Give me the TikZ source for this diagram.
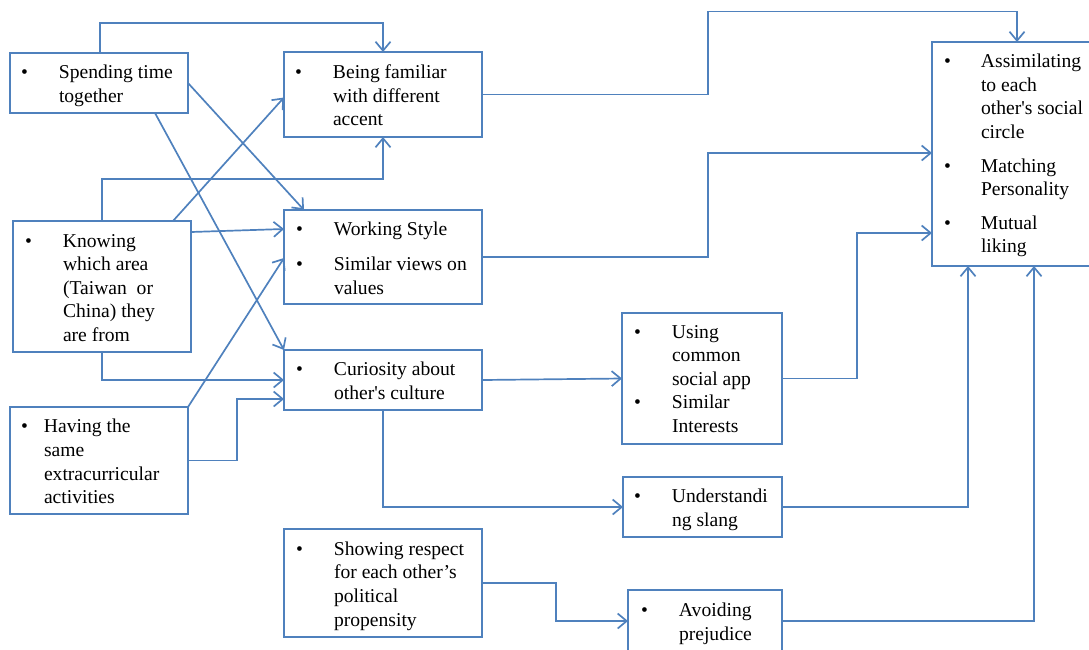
\documentclass[tikz,border=0pt]{standalone}
\usepackage{fontspec}
\setmainfont{Liberation Serif}
\usetikzlibrary{arrows.meta}
\definecolor{linkblue}{HTML}{4F81BD}
% bullet list set as a two-column table: bullet column, then text
\newcommand\bitems[2]{\begin{tabular}{@{}p{#1}@{}l@{}}#2\end{tabular}}
\begin{document}
\begin{tikzpicture}[x=1pt,y=-1pt,
  box/.style={draw=linkblue, line width=1.9pt, rectangle, inner sep=0pt, outer sep=0pt, anchor=north west},
  txt/.style={inner sep=0pt, outer sep=0pt, anchor=west, font=\fontsize{19.6pt}{23.6pt}\selectfont},
  conn/.style={draw=linkblue, line width=1.7pt, -{Straight Barb[length=9pt,width=15pt]}},
]
\useasboundingbox (0,0) rectangle (1089,649);
\clip (0,0) rectangle (1089,649);

% boxes
\node[box, minimum width=178pt, minimum height=60pt]  (A) at (10,53) {};
\node[box, minimum width=198pt, minimum height=85pt]  (B) at (284,52) {};
\node[box, minimum width=178pt, minimum height=131pt] (C) at (13,221) {};
\node[box, minimum width=198pt, minimum height=94pt]  (D) at (284,210) {};
\node[box, minimum width=198pt, minimum height=60pt]  (E) at (284,350) {};
\node[box, minimum width=178pt, minimum height=107pt] (F) at (10,407) {};
\node[box, minimum width=160pt, minimum height=131pt] (G) at (622,313) {};
\node[box, minimum width=159pt, minimum height=60pt]  (H) at (623,477) {};
\node[box, minimum width=198pt, minimum height=108pt] (I) at (284,529) {};
\node[box, minimum width=154pt, minimum height=62pt]  (J) at (628,590) {};
\node[box, minimum width=166pt, minimum height=224pt] (K) at (932,42) {};

% box texts
\node[txt] (At) at ([xshift=11pt,yshift=-3pt]A.west) {\bitems{38pt}{\textbullet & Spending time\\ & together}};
\node[txt] (Bt) at ([xshift=11pt,yshift=-3pt]B.west) {\bitems{38pt}{\textbullet & Being familiar\\ & with different\\ & accent}};
\node[txt] (Ct) at ([xshift=12pt,yshift=-3pt]C.west) {\bitems{38pt}{\textbullet & Knowing\\ & which area\\ & (Taiwan\ \ or\\ & China) they\\ & are from}};
\node[txt] (Dt) at ([xshift=12pt,yshift=-3pt]D.west) {\bitems{38pt}{\textbullet & Working Style\\[12pt] \textbullet & Similar\ views\ on\\ & values}};
\node[txt] (Et) at ([xshift=12pt,yshift=-3pt]E.west) {\bitems{38pt}{\textbullet & Curiosity about\\ & other\textquotesingle s culture}};
\node[txt] (Ft) at ([xshift=11pt,yshift=-3pt]F.west) {\bitems{23pt}{\textbullet & Having the\\ & same\\ & extracurricular\\ & activities}};
\node[txt] (Gt) at ([xshift=12pt,yshift=-2pt]G.west) {\bitems{38pt}{\textbullet & Using\\ & common\\ & social app\\ \textbullet & Similar\\ & Interests}};
\node[txt] (Ht) at ([xshift=11pt,yshift=-3pt]H.west) {\bitems{38pt}{\textbullet & Understandi\\ & ng slang}};
\node[txt] (It) at ([xshift=12pt,yshift=-3pt]I.west) {\bitems{38pt}{\textbullet & Showing respect\\ & for each other’s\\ & political\\ & propensity}};
\node[txt] (Jt) at ([xshift=13pt,yshift=-3pt]J.west) {\bitems{38pt}{\textbullet & Avoiding\\ & prejudice}};
\node[txt] (Kt) at ([xshift=12pt,yshift=-1.5pt]K.west) {\bitems{37pt}{\textbullet & Assimilating\\ & to each\\ & other\textquotesingle s social\\ & circle\\[10pt] \textbullet & Matching\\ & Personality\\[10pt] \textbullet & Mutual\\ & liking}};

% connectors
\draw[conn] ([xshift=90pt]A.north west) -- ++(0,-30) -| ([xshift=99pt]B.north west);
\draw[conn] ([xshift=89pt]C.north west) -- ++(0,-42) -| ([xshift=99pt]B.south west);
\draw[conn] ([xshift=160pt]C.north west) -- ([yshift=-3pt]B.west);
\draw[conn] (A.east) -- ([xshift=20pt]D.north west);
\draw[conn] ([xshift=145pt]A.south west) -- (E.north west);
\draw[conn] ([yshift=-11pt]C.north east) -- ([yshift=-19pt]D.north west);
\draw[conn] (F.north east) -- ([yshift=-48pt]D.north west);
\draw[conn] ([xshift=89pt]C.south west) |- (E.west);
\draw[conn] (F.east) -- ++(49,0) |- ([yshift=11pt]E.south west);
\draw[conn] (E.east) -- (G.west);
\draw[conn] ([xshift=99pt]E.south west) |- (H.west);
\draw[conn] (I.east) -- ++(74,0) |- (J.west);
\draw[conn] (B.east) -- ++(226,0) -- ++(0,-83) -| ([xshift=85pt]K.north west);
\draw[conn] (D.east) -- ++(226,0) |- ([yshift=-111pt]K.north west);
\draw[conn] (G.east) -- ++(75,0) |- ([yshift=-191pt]K.north west);
\draw[conn] (H.east) -| ([xshift=36pt]K.south west);
\draw[conn] (J.east) -| ([xshift=102pt]K.south west);
\end{tikzpicture}
\end{document}
